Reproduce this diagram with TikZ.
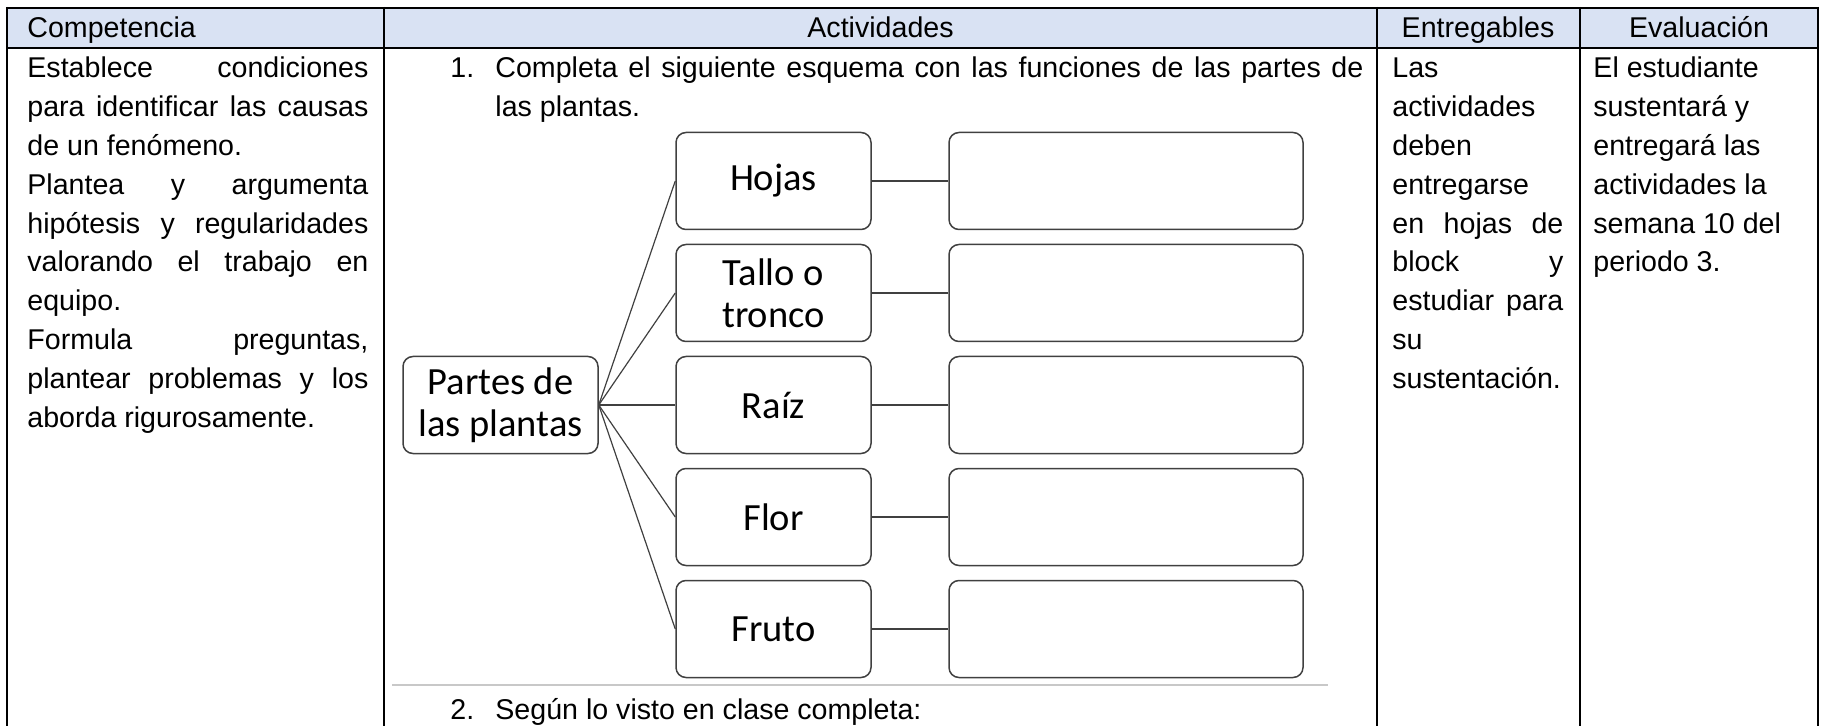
\documentclass[tikz,border=0pt]{standalone}
\usepackage{fontspec}
\setmainfont{Liberation Sans}
\newfontfamily\calibrifont{Carlito}
\definecolor{hdrfill}{HTML}{D9E2F3}
\definecolor{boxline}{HTML}{404040}
\definecolor{rulegray}{HTML}{C8C8C8}
\newcommand\bodysz{\fontsize{14.3}{19.4}\selectfont}
\newcommand\smartsz{\calibrifont\fontsize{19.25}{21}\selectfont}
\newcommand\jl[2]{\makebox[#1][s]{#2}}
\tikzset{
  body/.style={anchor=base west, inner sep=0pt, font=\bodysz},
  bodyc/.style={anchor=base, inner sep=0pt, font=\bodysz},
  tline/.style={line width=1.4pt, black},
  smartbox/.style={draw=boxline, line width=0.75pt, rounded corners=5pt,
    minimum width=97.5pt, minimum height=48.5pt, inner sep=0pt,
    align=center, font=\smartsz},
  emptybox/.style={draw=boxline, line width=0.75pt, rounded corners=5pt,
    minimum width=177pt, minimum height=48.5pt, inner sep=0pt},
  link/.style={draw=boxline, line width=0.6pt}
}
\begin{document}
\begin{tikzpicture}[x=0.5pt,y=-0.5pt]
\useasboundingbox (0,0) rectangle (1823,726);
% header fill
\fill[hdrfill] (7,8) rectangle (1818,48);
% table lines
\draw[tline] (7,8) -- (1818,8);
\draw[tline] (7,48) -- (1818,48);
\draw[tline] (7,7) -- (7,740);
\draw[tline] (384,7) -- (384,740);
\draw[tline] (1377,7) -- (1377,740);
\draw[tline] (1580,7) -- (1580,740);
\draw[tline] (1818,7) -- (1818,740);
% header texts
\node[body]  (h1) at (27,38) {Competencia};
\node[bodyc] (h2) at (880.5,38) {Actividades};
\node[bodyc] (h3) at (1478,38) {Entregables};
\node[bodyc] (h4) at (1699,38) {Evaluación};
% column 1
\node[body] (c1a) at (27,78)    {\jl{170.5pt}{Establece condiciones}};
\node[body] (c1b) at (27,116.8) {\jl{170.5pt}{para identificar las causas}};
\node[body] (c1c) at (27,155.6) {de un fenómeno.};
\node[body] (c1d) at (27,194.4) {\jl{170.5pt}{Plantea y argumenta}};
\node[body] (c1e) at (27,233.2) {\jl{170.5pt}{hipótesis y regularidades}};
\node[body] (c1f) at (27,272)   {\jl{170.5pt}{valorando el trabajo en}};
\node[body] (c1g) at (27,310.8) {equipo.};
\node[body] (c1h) at (27,349.6) {\jl{170.5pt}{Formula preguntas,}};
\node[body] (c1i) at (27,388.4) {\jl{170.5pt}{plantear problemas y los}};
\node[body] (c1j) at (27,427.2) {aborda rigurosamente.};
% column 2
\node[body] (n1) at (450,78) {1.};
\node[body] (c2a) at (495,78) {\jl{434pt}{Completa el siguiente esquema con las funciones de las partes de}};
\node[body] (c2b) at (495,116.8) {las plantas.};
\node[body] (n2) at (450,719) {2.};
\node[body] (c2c) at (495,719) {Según lo visto en clase completa:};
% column 3
\node[body] (c3a) at (1392,78)    {Las};
\node[body] (c3b) at (1392,116.8) {actividades};
\node[body] (c3c) at (1392,155.6) {deben};
\node[body] (c3d) at (1392,194.4) {entregarse};
\node[body] (c3e) at (1392,233.2) {\jl{85.5pt}{en hojas de}};
\node[body] (c3f) at (1392,272)   {\jl{85.5pt}{block y}};
\node[body] (c3g) at (1392,310.8) {\jl{85.5pt}{estudiar para}};
\node[body] (c3h) at (1392,349.6) {su};
\node[body] (c3i) at (1392,388.4) {sustentación.};
% column 4
\node[body] (c4a) at (1593,78)    {El estudiante};
\node[body] (c4b) at (1593,116.8) {sustentará y};
\node[body] (c4c) at (1593,155.6) {entregará las};
\node[body] (c4d) at (1593,194.4) {actividades la};
\node[body] (c4e) at (1593,233.2) {semana 10 del};
\node[body] (c4f) at (1593,272)   {periodo 3.};
% diagram
\node[smartbox] (partes) at (500.5,405) {Partes de\\las plantas};
\node[smartbox] (hojas) at (773.5,181) {Hojas};
\node[smartbox] (tallo) at (773.5,293) {Tallo o\\tronco};
\node[smartbox] (raiz)  at (773.5,405) {Raíz};
\node[smartbox] (flor)  at (773.5,517) {Flor};
\node[smartbox] (fruto) at (773.5,629) {Fruto};
\node[emptybox] (hojasR) at (1126,181) {};
\node[emptybox] (talloR) at (1126,293) {};
\node[emptybox] (raizR)  at (1126,405) {};
\node[emptybox] (florR)  at (1126,517) {};
\node[emptybox] (frutoR) at (1126,629) {};
\foreach \p in {hojas,tallo,raiz,flor,fruto}{
  \draw[link] (partes.east) -- (\p.west);
  \draw[link] (\p.east) -- (\p R.west);
}
\draw[rulegray, line width=0.6pt] (392,685) -- (1328,685);
\end{tikzpicture}
\end{document}
